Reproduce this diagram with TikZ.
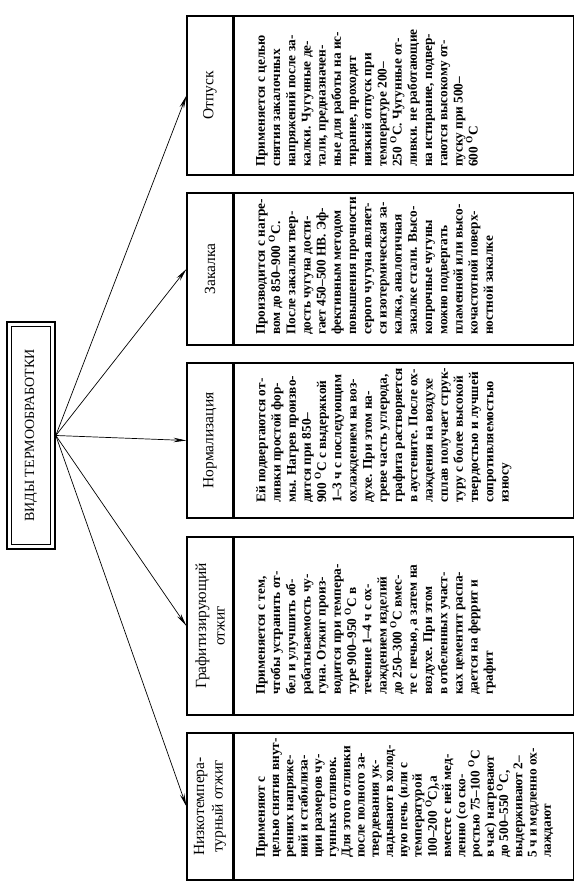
\documentclass[tikz,border=0pt]{standalone}
\usepackage{fontspec}
\setmainfont{Liberation Serif}
\usetikzlibrary{arrows.meta}
\newcommand{\dg}{\textsuperscript{O}C}
\tikzset{
  outerbox/.style={draw, line width=1.6pt, inner sep=0pt},
  innerbox/.style={draw, line width=0.8pt, inner sep=0pt},
  hdrbox/.style={draw, line width=1.1pt, inner sep=0pt, minimum width=46pt},
  bodybox/.style={draw, line width=1.1pt, inner sep=0pt, minimum width=339pt, anchor=west},
  hdrtext/.style={rotate=90, align=center, inner sep=0pt, font=\fontsize{15.5}{18.5}\selectfont},
  bodytext/.style={rotate=90, align=left, inner sep=0pt, anchor=north west, font=\bfseries\fontsize{13.3}{15.2}\selectfont},
  conn/.style={line width=0.7pt, -{Stealth[length=13pt,width=4.5pt]}}
}
\begin{document}
\begin{tikzpicture}[x=1pt,y=1pt]
\useasboundingbox (0,0) rectangle (587,888);
\fill[white] (0,0) rectangle (587,888);
% root
\node[outerbox, minimum width=48pt, minimum height=227pt] (root) at (31,452.5) {};
\node[innerbox, minimum width=39pt, minimum height=218pt] (rootin) at (root.center) {};
\node[rotate=90, inner sep=0pt, font=\fontsize{14}{16}\selectfont] (roottext) at (root.center) {ВИДЫ ТЕРМООБРАБОТКИ};
% box 1
\node[hdrbox, minimum height=159pt] (h1) at (210,792.5) {};
\node[bodybox, minimum height=159pt] (b1) at (h1.east) {};
\node[hdrtext] (t1) at (h1.center) {Отпуск};
\node[bodytext] (d1) at (256,721) {Применяется с целью\\снятия закалочных\\напряжений после за-\\калки. Чугунные де-\\тали, предназначен-\\ные для работы на ис-\\тирание, проходят\\низкий отпуск при\\температуре 200–\\250 \dg. Чугунные от-\\ливки. не работающие\\на истирание, подвер-\\гаются высокому от-\\пуску при 500–\\600 \dg};
% box 2
\node[hdrbox, minimum height=152pt] (h2) at (210,619) {};
\node[bodybox, minimum height=152pt] (b2) at (h2.east) {};
\node[hdrtext] (t2) at (h2.center) {Закалка};
\node[bodytext] (d2) at (256,553) {Производится с нагре-\\вом до 850–900 \dg.\\После закалки твер-\\дость чугуна дости-\\гает 450–500 HB. Эф-\\фективным методом\\повышения прочности\\серого чугуна являет-\\ся изотермическая за-\\калка, аналогичная\\закалке стали. Высо-\\копрочные чугуны\\можно подвергать\\пламенной или высо-\\кочастотной поверх-\\ностной закалке};
% box 3
\node[hdrbox, minimum height=155pt] (h3) at (210,447.5) {};
\node[bodybox, minimum height=155pt] (b3) at (h3.east) {};
\node[hdrtext] (t3) at (h3.center) {Нормализация};
\node[bodytext] (d3) at (256,385) {Ей подвергаются от-\\ливки простой фор-\\мы. Нагрев произво-\\дится при 850–\\900 \dg{} с выдержкой\\1–3 ч с последующим\\охлаждением на воз-\\духе. При этом на-\\греве часть углерода,\\графита растворяется\\в аустените. После ох-\\лаждения на воздухе\\сплав получает струк-\\туру с более высокой\\твердостью и лучшей\\сопротивляемостью\\износу};
% box 4
\node[hdrbox, minimum height=178pt] (h4) at (210,262) {};
\node[bodybox, minimum height=178pt] (b4) at (h4.east) {};
\node[hdrtext] (t4) at (h4.center) {Графитизирующий\\отжиг};
\node[bodytext] (d4) at (256,193) {Применяется с тем,\\чтобы устранить от-\\бел и улучшить об-\\рабатываемость чу-\\гуна. Отжиг произ-\\водится при темпера-\\туре 900–950 \dg{} в\\течение 1–4 ч с ох-\\лаждением изделий\\до 250–300 \dg{} вмес-\\те с печью, а затем на\\воздухе. При этом\\в отбеленных участ-\\ках цементит распа-\\дается на феррит и\\графит};
% box 5
\node[hdrbox, minimum height=147pt] (h5) at (210,81.5) {};
\node[bodybox, minimum height=147pt] (b5) at (h5.east) {};
\node[hdrtext] (t5) at (h5.center) {Низкотемпера-\\турный отжиг};
\node[bodytext, font=\bfseries\fontsize{13.3}{14.25}\selectfont] (d5) at (256,30) {Применяют с\\целью снятия внут-\\ренних напряже-\\ний и стабилиза-\\ции размеров чу-\\гунных отливок.\\Для этого отливки\\после полного за-\\твердевания ук-\\ладывают в холод-\\ную печь (или с\\температурой\\100–200 \dg),а\\вместе с ней мед-\\ленно (со ско-\\ростью 75–100 \dg\\в час) нагревают\\до 500–550 \dg,\\выдерживают 2–\\5 ч и медленно ох-\\лаждают};
% connectors
\draw[conn] (root.east) -- (h1.west);
\draw[conn] (root.east) -- (h2.west);
\draw[conn] (root.east) -- (h3.west);
\draw[conn] (root.east) -- (h4.west);
\draw[conn] (root.east) -- (h5.west);
\end{tikzpicture}
\end{document}
